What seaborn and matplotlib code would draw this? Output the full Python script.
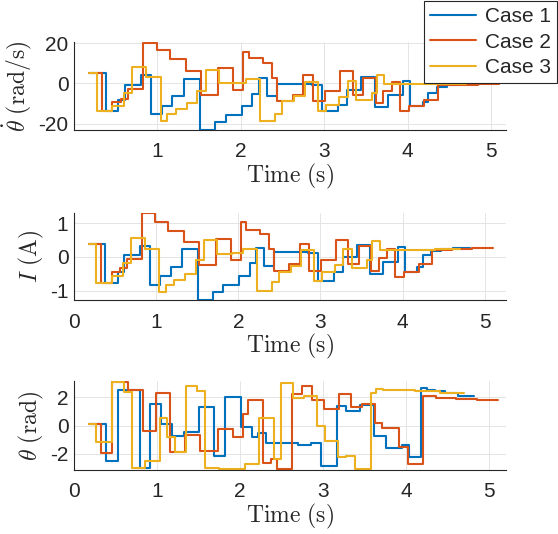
import numpy as np
import pandas as pd
import matplotlib
matplotlib.use("Agg")
import matplotlib.pyplot as plt
import seaborn as sns

# step breakpoints (s), last entry = end of run
t_case1 = [0.18, 0.38, 0.53, 0.61, 0.80, 0.92, 1.05, 1.18, 1.32, 1.51, 1.69, 1.82, 2.01, 2.14, 2.22, 2.31,
           2.43, 2.70, 2.85, 2.97, 3.16, 3.27, 3.44, 3.61, 3.76, 3.95, 4.03, 4.18, 4.25, 4.35, 4.47, 4.62, 4.82]
t_case2 = [0.18, 0.33, 0.46, 0.56, 0.65, 0.83, 0.99, 1.15, 1.34, 1.52, 1.73, 1.91, 2.03, 2.10, 2.27, 2.37,
           2.44, 2.62, 2.75, 2.86, 3.01, 3.19, 3.34, 3.47, 3.62, 3.71, 3.81, 3.91, 4.02, 4.20, 4.36, 4.60, 4.85, 5.10]
t_case3 = [0.18, 0.27, 0.46, 0.60, 0.70, 0.86, 1.04, 1.12, 1.22, 1.35, 1.48, 1.58, 1.74, 1.92, 2.06, 2.23,
           2.41, 2.49, 2.64, 2.77, 2.92, 3.02, 3.18, 3.28, 3.38, 3.57, 3.63, 3.72, 3.81, 4.10, 4.40, 4.70]

# angular velocity (rad/s)
dtheta_case1 = [5, -14, -8.5, -0.6, 4.2, -15, -11.3, -6.4, 2.2, -23, -19.3, -15.7, -11.5, -5.5, 2.5, -6.2,
                -0.1, -0.4, -0.6, -13.6, -10.6, -3.4, 3, -11.6, -6, 1.3, -11.2, -9.3, -4.7, -1.9, -0.7, -0.4]
dtheta_case2 = [5, -13.8, -9.3, -8, -2.8, 20.3, 16.6, 12.3, 6.4, -5.6, 7.6, -3.3, 15.6, 12.6, 10.2, 2.6,
                -8.8, -5.9, 4, -8.7, -4, 6, -6, 2.5, -10, -4, 0.7, -14, -11.3, -8.3, -0.7, -0.6, -0.5]
dtheta_case3 = [5, -13.8, -11.3, -4.6, 8.2, 3.3, -18.7, -15.2, -12.8, -10, -4, 6.8, 0.2, 0.2, 2.2, -18.8,
                -15, -9, -6.5, 0.8, -13.6, -10.6, -7, 1, -8.5, -4.9, 4, -0.3, -0.3, -0.3, -0.3]

# current (A)
cur_case1 = [0.39, -0.78, -0.44, 0.05, 0.32, -0.83, -0.56, -0.29, 0.22, -1.28, -1.04, -0.83, -0.56, -0.19,
             0.26, -0.27, 0.15, 0.14, 0.12, -0.71, -0.44, 0.0, 0.34, -0.51, -0.15, 0.29, -0.44, -0.29, 0.05,
             0.17, 0.24, 0.26]
cur_case2 = [0.39, -0.78, -0.44, -0.33, -0.07, 1.29, 1.04, 0.78, 0.44, -0.24, 0.53, -0.1, 1.04, 0.8, 0.68,
             0.24, -0.42, -0.22, 0.39, -0.42, -0.1, 0.51, -0.22, 0.32, -0.42, -0.03, 0.24, -0.61, -0.44,
             -0.22, 0.19, 0.23, 0.25]
cur_case3 = [0.39, -0.78, -0.56, -0.19, 0.56, 0.24, -1.04, -0.83, -0.68, -0.5, -0.1, 0.5, 0.07, 0.1, 0.24,
             -1.0, -0.75, -0.44, -0.27, 0.19, -0.71, -0.44, -0.24, 0.24, -0.34, -0.08, 0.46, 0.19, 0.2,
             0.21, 0.22]

# angle (rad)
theta_case1 = [0.1, -2.5, 2.53, 2.53, -3.0, 1.5, 0.12, -0.73, -0.47, 1.35, -2.13, 2.06, -0.07, -0.78, -0.55,
               -1.26, -1.26, -1.36, -1.24, -2.86, 1.38, 1.0, 1.48, -0.76, -1.6, -1.38, -2.21, 2.69, 2.5,
               2.42, 2.3, 2.12]
theta_case2 = [0.1, -1.96, 3.08, 3.08, 2.53, -0.38, 2.3, -1.9, -0.66, -1.78, -0.24, -0.83, 0.83, 1.82, -2.62,
               -2.38, -3.05, 2.21, 2.79, 1.79, 1.19, 2.21, 1.31, 1.55, 0.17, -0.19, -0.19, -1.5, -2.69,
               2.07, 1.98, 1.9, 1.83]
theta_case3 = [0.1, -1.14, 3.08, 2.41, -3.03, -2.5, 0.52, -0.78, -1.89, 2.84, 2.46, -3.03, -3.1, -3.1, -2.75,
               0.55, -2.38, 3.02, 1.98, 2.07, 0.0, -1.07, -2.26, -2.14, -3.05, 2.31, 2.62, 2.55, 2.52,
               2.42, 2.28]

case_names = ['Case 1', 'Case 2', 'Case 3']
colors = ['#0072BD', '#D95319', '#EDB120']


def build(ts, vals):
    rows = []
    for name, t, v in zip(case_names, ts, vals):
        v = list(v) + [v[-1]]  # hold last value until end time
        for ti, vi in zip(t, v):
            rows.append({'t': ti, 'y': vi, 'case': name})
    return pd.DataFrame(rows)


times = [t_case1, t_case2, t_case3]
df_dtheta = build(times, [dtheta_case1, dtheta_case2, dtheta_case3])
df_cur = build(times, [cur_case1, cur_case2, cur_case3])
df_theta = build(times, [theta_case1, theta_case2, theta_case3])

sns.set_style('white')
plt.rcParams['font.family'] = ['Liberation Sans', 'DejaVu Sans']
plt.rcParams['mathtext.fontset'] = 'cm'
plt.rcParams['axes.unicode_minus'] = False

fig = plt.figure(figsize=(5.58, 5.34), dpi=100)
left, width = 74 / 558, 432 / 558
ax1 = fig.add_axes([left, 0.7566, width, 0.1648])
ax2 = fig.add_axes([left, 0.4382, width, 0.1630])
ax3 = fig.add_axes([left, 0.1200, width, 0.1660])

panels = [
    (ax1, df_dtheta, r'$\dot{\theta}\ \mathrm{(rad/s)}$', (-23.2, 20.6), [-20, 0, 20], (0, 5.18), [1, 2, 3, 4, 5]),
    (ax2, df_cur, r'$I\ \mathrm{(A)}$', (-1.28, 1.30), [-1, 0, 1], (0, 5.26), [0, 1, 2, 3, 4, 5]),
    (ax3, df_theta, r'$\theta\ \mathrm{(rad)}$', (-np.pi, np.pi), [-2, 0, 2], (0, 5.2), [0, 1, 2, 3, 4, 5]),
]

for ax, df, ylab, ylim, yt, xlim, xt in panels:
    sns.lineplot(data=df, x='t', y='y', hue='case', palette=colors, estimator=None, sort=False,
                 drawstyle='steps-post', linewidth=1.5, ax=ax, legend=(ax is ax1))
    ax.set_xlim(*xlim)
    ax.set_ylim(*ylim)
    ax.set_xticks(xt)
    ax.set_yticks(yt)
    ax.grid(True, color='#e4e4e4', linewidth=0.7)
    ax.set_axisbelow(True)
    for s in ['top', 'right']:
        ax.spines[s].set_visible(False)
    for s in ['left', 'bottom']:
        ax.spines[s].set_color('#262626')
        ax.spines[s].set_linewidth(0.8)
    ax.tick_params(direction='in', length=3, width=0.8, colors='#262626', labelsize=15)
    ax.tick_params(axis='x', pad=9)
    ax.tick_params(axis='y', pad=4)
    ax.set_xlabel(r'$\mathrm{Time\ (s)}$', fontsize=17, labelpad=0)
    ax.set_ylabel(ylab, fontsize=17, labelpad=3)

handles, labels = ax1.get_legend_handles_labels()
ax1.get_legend().remove()
leg = fig.legend(handles, labels, loc='upper right', bbox_to_anchor=(0.998, 0.998), fontsize=15,
                 frameon=True, fancybox=False, framealpha=1, edgecolor='#262626', borderaxespad=0,
                 handlelength=2.2, handletextpad=0.4, labelspacing=0.3, borderpad=0.3)
leg.get_frame().set_linewidth(0.8)

fig.savefig('out.png', dpi=100)
